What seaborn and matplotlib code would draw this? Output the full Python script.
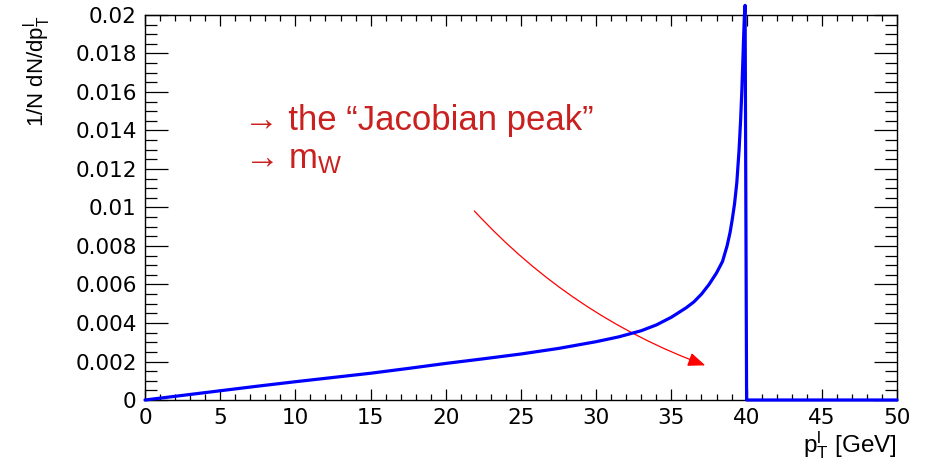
import matplotlib
matplotlib.use("Agg")
import matplotlib.pyplot as plt
import seaborn as sns
import pandas as pd
from matplotlib.ticker import MultipleLocator, FixedLocator, FixedFormatter

# ---- data ----
pt_values = [0.0, 2.5, 5.0, 7.5, 10.0, 12.5, 15.0, 17.5, 20.0, 22.5, 25.0, 27.5,
             30.0, 31.5, 33.0, 34.0, 35.0, 35.5, 36.0, 36.5, 37.0, 37.5, 38.0,
             38.4, 38.7, 38.9, 39.05, 39.2, 39.35, 39.5, 39.6, 39.68, 39.75,
             39.8, 39.85, 39.9, 40.0, 45.0, 50.0]
density_values = [0.0, 0.00024, 0.00048, 0.00072, 0.00095, 0.00117, 0.00139,
                  0.00164, 0.0019, 0.00214, 0.00239, 0.00268, 0.00303, 0.00328,
                  0.0036, 0.0039, 0.0043, 0.00455, 0.0048, 0.0051, 0.0055,
                  0.0060, 0.0066, 0.0072, 0.0080, 0.0087, 0.0094, 0.0102,
                  0.0113, 0.0130, 0.0145, 0.0160, 0.0176, 0.0188, 0.0199,
                  0.0205, 0.0, 0.0, 0.0]

x_ticks = [0, 5, 10, 15, 20, 25, 30, 35, 40, 45, 50]
x_tick_labels = ["0", "5", "10", "15", "20", "25", "30", "35", "40", "45", "50"]
y_ticks = [0, 0.002, 0.004, 0.006, 0.008, 0.01, 0.012, 0.014, 0.016, 0.018, 0.02]
y_tick_labels = ["0", "0.002", "0.004", "0.006", "0.008", "0.01", "0.012",
                 "0.014", "0.016", "0.018", "0.02"]

x_title = r"p$_{\mathrm{T}}^{\mathrm{l}}$ [GeV]"
y_title = r"1/N dN/dp$_{\mathrm{T}}^{\mathrm{l}}$"
note_line1 = "\u2192 the \u201cJacobian peak\u201d"
note_line2 = "\u2192 m$_{\\mathrm{W}}$"
arrow_start = (21.9, 0.00982)
arrow_tip = (37.25, 0.00180)

# ---- style ----
sns.set_theme(style="white")
plt.rcParams["font.family"] = ["Liberation Sans", "DejaVu Sans"]
plt.rcParams["mathtext.fontset"] = "custom"
plt.rcParams["mathtext.rm"] = "Liberation Sans"
plt.rcParams["mathtext.it"] = "Liberation Sans"
plt.rcParams["mathtext.bf"] = "Liberation Sans:bold"
plt.rcParams["axes.labelcolor"] = "black"
plt.rcParams["text.color"] = "black"

fig = plt.figure(figsize=(9.28, 4.69), dpi=100)
ax = fig.add_axes([145 / 928, 1 - 400 / 469, 752 / 928, 385 / 469])

df = pd.DataFrame({"pT": pt_values, "density": density_values})
sns.lineplot(data=df, x="pT", y="density", ax=ax, color="#0000ff",
             linewidth=2.3, sort=False, estimator=None)
for ln in ax.lines:
    ln.set_clip_on(False)
    ln.set_solid_joinstyle("round")
    ln.set_solid_capstyle("round")
    ln.set_zorder(5)

ax.set_xlim(0, 50)
ax.set_ylim(0, 0.02)

ax.xaxis.set_major_locator(FixedLocator(x_ticks))
ax.xaxis.set_major_formatter(FixedFormatter(x_tick_labels))
ax.xaxis.set_minor_locator(MultipleLocator(1))
ax.yaxis.set_major_locator(FixedLocator(y_ticks))
ax.yaxis.set_major_formatter(FixedFormatter(y_tick_labels))
ax.yaxis.set_minor_locator(MultipleLocator(0.0005))

ax.tick_params(axis="x", which="both", direction="in", top=True, bottom=True,
               pad=6, colors="black", width=0.9)
ax.tick_params(axis="x", which="major", length=8)
ax.tick_params(axis="x", which="minor", length=4)
ax.tick_params(axis="y", which="both", direction="in", left=True, right=True,
               pad=6, colors="black", width=0.9)
ax.tick_params(axis="y", which="major", length=16.5)
ax.tick_params(axis="y", which="minor", length=8.5)
for lab in ax.get_xticklabels() + ax.get_yticklabels():
    lab.set_fontfamily(["DejaVu Sans"])
    lab.set_fontsize(15.5)
    lab.set_color("black")

for s in ax.spines.values():
    s.set_color("black")
    s.set_linewidth(1.0)

ax.set_xlabel(x_title, fontsize=17.5, loc="right", color="black")
ax.xaxis.set_label_coords(1.0, -0.075)
ax.set_ylabel(y_title, fontsize=16, loc="top", color="black")
ax.yaxis.set_label_coords(-0.122, 1.0)

ax.text(6.6, 0.01403, note_line1, fontsize=25, color="#c8211f",
        ha="left", va="baseline")
ax.text(6.6, 0.01205, note_line2, fontsize=25, color="#c8211f",
        ha="left", va="baseline")

ax.annotate("", xy=arrow_tip, xytext=arrow_start,
            arrowprops=dict(arrowstyle="-|>,head_length=0.7,head_width=0.28",
                            mutation_scale=15, color="#ff0000", lw=0.9,
                            shrinkA=0, shrinkB=0,
                            connectionstyle="arc3,rad=0.12"))

fig.savefig("out.png", dpi=100)
